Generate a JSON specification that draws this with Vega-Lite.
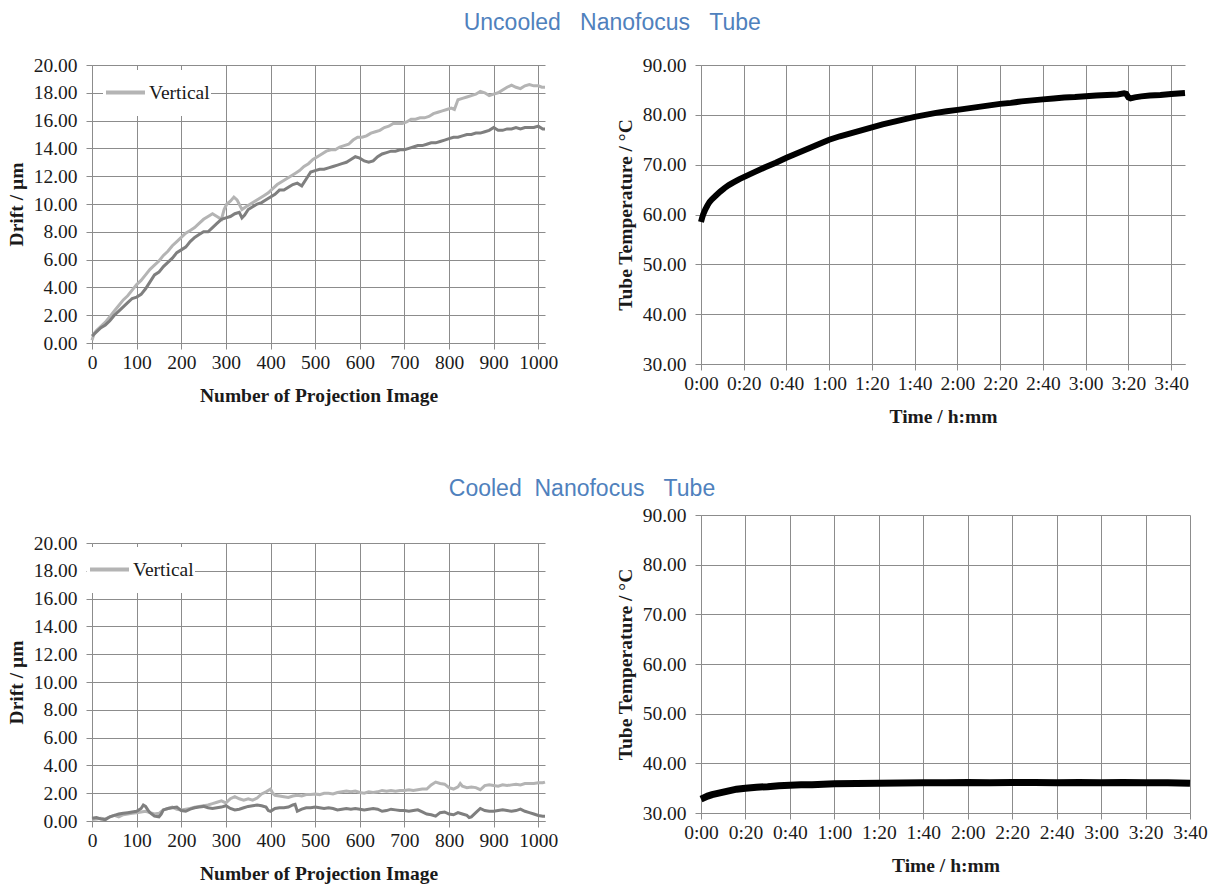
{
  "$schema": "https://vega.github.io/schema/vega-lite/v6.json",
  "padding": {"left": 6, "top": 12, "right": 5, "bottom": 5},
  "background": "white",
  "title": {"text": "Uncooled\u00a0\u00a0\u00a0Nanofocus\u00a0\u00a0\u00a0Tube", "font": "Liberation Sans", "fontSize": 23, "fontWeight": "normal", "color": "#4f81bd", "anchor": "middle", "dx": 5.5, "offset": 20},
  "config": {
    "view": {"stroke": null},
    "axis": {"labelFont": "Liberation Serif", "labelFontSize": 19.5, "labelColor": "#1a1a1a", "titleFont": "Liberation Serif", "titleFontSize": 19.5, "titleFontWeight": "bold", "titleColor": "#1a1a1a", "grid": true, "gridColor": "#8c8c8c", "gridOpacity": 1, "gridWidth": 1, "domainColor": "#8c8c8c", "domainWidth": 1, "tickColor": "#8c8c8c", "tickSize": 6, "labelFlush": false, "labelOverlap": false},
    "axisX": {"labelPadding": 4, "titlePadding": 15},
    "axisY": {"labelPadding": 9, "titlePadding": 7}
  },
  "datasets": {
    "tl": [
      {"n":0,"drift":0.2,"dir":"Vertical"},{"n":5,"drift":0.7,"dir":"Vertical"},{"n":10,"drift":0.9,"dir":"Vertical"},{"n":20,"drift":1.2,"dir":"Vertical"},{"n":30,"drift":1.5,"dir":"Vertical"},{"n":40,"drift":1.9,"dir":"Vertical"},{"n":50,"drift":2.3,"dir":"Vertical"},{"n":60,"drift":2.7,"dir":"Vertical"},{"n":70,"drift":3.1,"dir":"Vertical"},{"n":80,"drift":3.4,"dir":"Vertical"},{"n":90,"drift":3.8,"dir":"Vertical"},{"n":100,"drift":4.2,"dir":"Vertical"},{"n":110,"drift":4.5,"dir":"Vertical"},{"n":120,"drift":4.9,"dir":"Vertical"},{"n":130,"drift":5.3,"dir":"Vertical"},{"n":140,"drift":5.6,"dir":"Vertical"},{"n":150,"drift":5.9,"dir":"Vertical"},{"n":160,"drift":6.3,"dir":"Vertical"},{"n":170,"drift":6.6,"dir":"Vertical"},{"n":180,"drift":7.0,"dir":"Vertical"},{"n":190,"drift":7.3,"dir":"Vertical"},{"n":200,"drift":7.6,"dir":"Vertical"},{"n":210,"drift":7.9,"dir":"Vertical"},{"n":220,"drift":8.1,"dir":"Vertical"},{"n":230,"drift":8.3,"dir":"Vertical"},{"n":240,"drift":8.6,"dir":"Vertical"},{"n":250,"drift":8.9,"dir":"Vertical"},{"n":260,"drift":9.1,"dir":"Vertical"},{"n":270,"drift":9.3,"dir":"Vertical"},{"n":280,"drift":9.1,"dir":"Vertical"},{"n":290,"drift":8.9,"dir":"Vertical"},{"n":296,"drift":9.6,"dir":"Vertical"},{"n":302,"drift":10.0,"dir":"Vertical"},{"n":310,"drift":10.2,"dir":"Vertical"},{"n":318,"drift":10.5,"dir":"Vertical"},{"n":325,"drift":10.3,"dir":"Vertical"},{"n":336,"drift":9.6,"dir":"Vertical"},{"n":345,"drift":9.8,"dir":"Vertical"},{"n":355,"drift":10.0,"dir":"Vertical"},{"n":365,"drift":10.2,"dir":"Vertical"},{"n":375,"drift":10.4,"dir":"Vertical"},{"n":385,"drift":10.6,"dir":"Vertical"},{"n":395,"drift":10.8,"dir":"Vertical"},{"n":405,"drift":11.1,"dir":"Vertical"},{"n":415,"drift":11.4,"dir":"Vertical"},{"n":425,"drift":11.6,"dir":"Vertical"},{"n":435,"drift":11.8,"dir":"Vertical"},{"n":445,"drift":12.0,"dir":"Vertical"},{"n":455,"drift":12.2,"dir":"Vertical"},{"n":465,"drift":12.4,"dir":"Vertical"},{"n":475,"drift":12.7,"dir":"Vertical"},{"n":485,"drift":12.9,"dir":"Vertical"},{"n":495,"drift":13.2,"dir":"Vertical"},{"n":505,"drift":13.4,"dir":"Vertical"},{"n":515,"drift":13.6,"dir":"Vertical"},{"n":525,"drift":13.8,"dir":"Vertical"},{"n":535,"drift":13.9,"dir":"Vertical"},{"n":545,"drift":13.9,"dir":"Vertical"},{"n":555,"drift":14.1,"dir":"Vertical"},{"n":565,"drift":14.2,"dir":"Vertical"},{"n":575,"drift":14.3,"dir":"Vertical"},{"n":585,"drift":14.6,"dir":"Vertical"},{"n":595,"drift":14.8,"dir":"Vertical"},{"n":605,"drift":14.8,"dir":"Vertical"},{"n":615,"drift":14.9,"dir":"Vertical"},{"n":625,"drift":15.1,"dir":"Vertical"},{"n":635,"drift":15.2,"dir":"Vertical"},{"n":645,"drift":15.3,"dir":"Vertical"},{"n":655,"drift":15.5,"dir":"Vertical"},{"n":665,"drift":15.6,"dir":"Vertical"},{"n":675,"drift":15.8,"dir":"Vertical"},{"n":685,"drift":15.8,"dir":"Vertical"},{"n":695,"drift":15.8,"dir":"Vertical"},{"n":705,"drift":15.9,"dir":"Vertical"},{"n":715,"drift":16.1,"dir":"Vertical"},{"n":725,"drift":16.1,"dir":"Vertical"},{"n":735,"drift":16.2,"dir":"Vertical"},{"n":745,"drift":16.2,"dir":"Vertical"},{"n":755,"drift":16.3,"dir":"Vertical"},{"n":765,"drift":16.5,"dir":"Vertical"},{"n":775,"drift":16.6,"dir":"Vertical"},{"n":785,"drift":16.7,"dir":"Vertical"},{"n":795,"drift":16.8,"dir":"Vertical"},{"n":805,"drift":16.9,"dir":"Vertical"},{"n":812,"drift":16.8,"dir":"Vertical"},{"n":820,"drift":17.5,"dir":"Vertical"},{"n":830,"drift":17.6,"dir":"Vertical"},{"n":840,"drift":17.7,"dir":"Vertical"},{"n":850,"drift":17.8,"dir":"Vertical"},{"n":860,"drift":17.9,"dir":"Vertical"},{"n":870,"drift":18.1,"dir":"Vertical"},{"n":880,"drift":18.0,"dir":"Vertical"},{"n":890,"drift":17.8,"dir":"Vertical"},{"n":900,"drift":17.9,"dir":"Vertical"},{"n":910,"drift":18.0,"dir":"Vertical"},{"n":920,"drift":18.2,"dir":"Vertical"},{"n":930,"drift":18.4,"dir":"Vertical"},{"n":940,"drift":18.55,"dir":"Vertical"},{"n":950,"drift":18.4,"dir":"Vertical"},{"n":960,"drift":18.3,"dir":"Vertical"},{"n":970,"drift":18.5,"dir":"Vertical"},{"n":980,"drift":18.6,"dir":"Vertical"},{"n":990,"drift":18.5,"dir":"Vertical"},{"n":1000,"drift":18.5,"dir":"Vertical"},{"n":1008,"drift":18.4,"dir":"Vertical"},{"n":1015,"drift":18.4,"dir":"Vertical"},
      {"n":0,"drift":0.5,"dir":"Horizontal"},{"n":10,"drift":0.8,"dir":"Horizontal"},{"n":20,"drift":1.1,"dir":"Horizontal"},{"n":30,"drift":1.3,"dir":"Horizontal"},{"n":40,"drift":1.6,"dir":"Horizontal"},{"n":50,"drift":2.0,"dir":"Horizontal"},{"n":60,"drift":2.3,"dir":"Horizontal"},{"n":70,"drift":2.6,"dir":"Horizontal"},{"n":80,"drift":2.9,"dir":"Horizontal"},{"n":90,"drift":3.2,"dir":"Horizontal"},{"n":100,"drift":3.3,"dir":"Horizontal"},{"n":110,"drift":3.5,"dir":"Horizontal"},{"n":120,"drift":3.9,"dir":"Horizontal"},{"n":130,"drift":4.4,"dir":"Horizontal"},{"n":140,"drift":4.9,"dir":"Horizontal"},{"n":150,"drift":5.1,"dir":"Horizontal"},{"n":160,"drift":5.5,"dir":"Horizontal"},{"n":170,"drift":5.8,"dir":"Horizontal"},{"n":180,"drift":6.1,"dir":"Horizontal"},{"n":190,"drift":6.5,"dir":"Horizontal"},{"n":200,"drift":6.7,"dir":"Horizontal"},{"n":210,"drift":6.9,"dir":"Horizontal"},{"n":220,"drift":7.3,"dir":"Horizontal"},{"n":230,"drift":7.6,"dir":"Horizontal"},{"n":240,"drift":7.8,"dir":"Horizontal"},{"n":250,"drift":8.0,"dir":"Horizontal"},{"n":260,"drift":8.0,"dir":"Horizontal"},{"n":270,"drift":8.3,"dir":"Horizontal"},{"n":280,"drift":8.6,"dir":"Horizontal"},{"n":290,"drift":8.9,"dir":"Horizontal"},{"n":300,"drift":9.0,"dir":"Horizontal"},{"n":310,"drift":9.1,"dir":"Horizontal"},{"n":320,"drift":9.3,"dir":"Horizontal"},{"n":330,"drift":9.4,"dir":"Horizontal"},{"n":336,"drift":9.0,"dir":"Horizontal"},{"n":342,"drift":9.2,"dir":"Horizontal"},{"n":350,"drift":9.6,"dir":"Horizontal"},{"n":360,"drift":9.8,"dir":"Horizontal"},{"n":370,"drift":10.0,"dir":"Horizontal"},{"n":380,"drift":10.1,"dir":"Horizontal"},{"n":390,"drift":10.3,"dir":"Horizontal"},{"n":400,"drift":10.5,"dir":"Horizontal"},{"n":410,"drift":10.7,"dir":"Horizontal"},{"n":420,"drift":11.0,"dir":"Horizontal"},{"n":430,"drift":11.0,"dir":"Horizontal"},{"n":440,"drift":11.2,"dir":"Horizontal"},{"n":450,"drift":11.4,"dir":"Horizontal"},{"n":460,"drift":11.5,"dir":"Horizontal"},{"n":470,"drift":11.3,"dir":"Horizontal"},{"n":480,"drift":11.8,"dir":"Horizontal"},{"n":490,"drift":12.3,"dir":"Horizontal"},{"n":500,"drift":12.4,"dir":"Horizontal"},{"n":510,"drift":12.5,"dir":"Horizontal"},{"n":520,"drift":12.5,"dir":"Horizontal"},{"n":530,"drift":12.6,"dir":"Horizontal"},{"n":540,"drift":12.7,"dir":"Horizontal"},{"n":550,"drift":12.8,"dir":"Horizontal"},{"n":560,"drift":12.9,"dir":"Horizontal"},{"n":570,"drift":13.0,"dir":"Horizontal"},{"n":580,"drift":13.2,"dir":"Horizontal"},{"n":590,"drift":13.4,"dir":"Horizontal"},{"n":600,"drift":13.3,"dir":"Horizontal"},{"n":610,"drift":13.1,"dir":"Horizontal"},{"n":620,"drift":13.0,"dir":"Horizontal"},{"n":630,"drift":13.1,"dir":"Horizontal"},{"n":640,"drift":13.4,"dir":"Horizontal"},{"n":650,"drift":13.6,"dir":"Horizontal"},{"n":660,"drift":13.7,"dir":"Horizontal"},{"n":670,"drift":13.8,"dir":"Horizontal"},{"n":680,"drift":13.8,"dir":"Horizontal"},{"n":690,"drift":13.9,"dir":"Horizontal"},{"n":700,"drift":13.9,"dir":"Horizontal"},{"n":710,"drift":14.0,"dir":"Horizontal"},{"n":720,"drift":14.1,"dir":"Horizontal"},{"n":730,"drift":14.2,"dir":"Horizontal"},{"n":740,"drift":14.2,"dir":"Horizontal"},{"n":750,"drift":14.3,"dir":"Horizontal"},{"n":760,"drift":14.4,"dir":"Horizontal"},{"n":770,"drift":14.4,"dir":"Horizontal"},{"n":780,"drift":14.5,"dir":"Horizontal"},{"n":790,"drift":14.6,"dir":"Horizontal"},{"n":800,"drift":14.7,"dir":"Horizontal"},{"n":810,"drift":14.8,"dir":"Horizontal"},{"n":820,"drift":14.8,"dir":"Horizontal"},{"n":830,"drift":14.9,"dir":"Horizontal"},{"n":840,"drift":15.0,"dir":"Horizontal"},{"n":850,"drift":15.0,"dir":"Horizontal"},{"n":860,"drift":15.1,"dir":"Horizontal"},{"n":870,"drift":15.1,"dir":"Horizontal"},{"n":880,"drift":15.2,"dir":"Horizontal"},{"n":890,"drift":15.3,"dir":"Horizontal"},{"n":900,"drift":15.5,"dir":"Horizontal"},{"n":910,"drift":15.3,"dir":"Horizontal"},{"n":920,"drift":15.3,"dir":"Horizontal"},{"n":930,"drift":15.4,"dir":"Horizontal"},{"n":940,"drift":15.4,"dir":"Horizontal"},{"n":950,"drift":15.5,"dir":"Horizontal"},{"n":960,"drift":15.4,"dir":"Horizontal"},{"n":970,"drift":15.5,"dir":"Horizontal"},{"n":980,"drift":15.5,"dir":"Horizontal"},{"n":990,"drift":15.5,"dir":"Horizontal"},{"n":1000,"drift":15.6,"dir":"Horizontal"},{"n":1010,"drift":15.4,"dir":"Horizontal"},{"n":1015,"drift":15.4,"dir":"Horizontal"}
    ],
    "bl": [
      {"n":0,"drift":0.1,"dir":"Vertical"},{"n":10,"drift":0.15,"dir":"Vertical"},{"n":20,"drift":0.2,"dir":"Vertical"},{"n":30,"drift":0.15,"dir":"Vertical"},{"n":40,"drift":0.3,"dir":"Vertical"},{"n":50,"drift":0.4,"dir":"Vertical"},{"n":60,"drift":0.3,"dir":"Vertical"},{"n":70,"drift":0.45,"dir":"Vertical"},{"n":80,"drift":0.5,"dir":"Vertical"},{"n":90,"drift":0.55,"dir":"Vertical"},{"n":100,"drift":0.6,"dir":"Vertical"},{"n":110,"drift":0.65,"dir":"Vertical"},{"n":120,"drift":0.7,"dir":"Vertical"},{"n":130,"drift":0.6,"dir":"Vertical"},{"n":140,"drift":0.5,"dir":"Vertical"},{"n":150,"drift":0.55,"dir":"Vertical"},{"n":160,"drift":0.8,"dir":"Vertical"},{"n":170,"drift":0.9,"dir":"Vertical"},{"n":180,"drift":1.0,"dir":"Vertical"},{"n":190,"drift":0.85,"dir":"Vertical"},{"n":200,"drift":0.8,"dir":"Vertical"},{"n":210,"drift":0.85,"dir":"Vertical"},{"n":220,"drift":0.9,"dir":"Vertical"},{"n":230,"drift":1.0,"dir":"Vertical"},{"n":240,"drift":1.05,"dir":"Vertical"},{"n":250,"drift":1.1,"dir":"Vertical"},{"n":260,"drift":1.15,"dir":"Vertical"},{"n":270,"drift":1.25,"dir":"Vertical"},{"n":280,"drift":1.35,"dir":"Vertical"},{"n":290,"drift":1.45,"dir":"Vertical"},{"n":300,"drift":1.3,"dir":"Vertical"},{"n":310,"drift":1.6,"dir":"Vertical"},{"n":320,"drift":1.75,"dir":"Vertical"},{"n":330,"drift":1.6,"dir":"Vertical"},{"n":340,"drift":1.5,"dir":"Vertical"},{"n":350,"drift":1.6,"dir":"Vertical"},{"n":360,"drift":1.5,"dir":"Vertical"},{"n":370,"drift":1.65,"dir":"Vertical"},{"n":380,"drift":1.95,"dir":"Vertical"},{"n":390,"drift":2.1,"dir":"Vertical"},{"n":400,"drift":2.3,"dir":"Vertical"},{"n":405,"drift":2.0,"dir":"Vertical"},{"n":410,"drift":1.85,"dir":"Vertical"},{"n":420,"drift":1.8,"dir":"Vertical"},{"n":430,"drift":1.75,"dir":"Vertical"},{"n":440,"drift":1.7,"dir":"Vertical"},{"n":450,"drift":1.8,"dir":"Vertical"},{"n":460,"drift":1.85,"dir":"Vertical"},{"n":470,"drift":1.8,"dir":"Vertical"},{"n":480,"drift":1.9,"dir":"Vertical"},{"n":490,"drift":1.9,"dir":"Vertical"},{"n":500,"drift":1.95,"dir":"Vertical"},{"n":510,"drift":1.9,"dir":"Vertical"},{"n":520,"drift":2.0,"dir":"Vertical"},{"n":530,"drift":2.0,"dir":"Vertical"},{"n":540,"drift":1.95,"dir":"Vertical"},{"n":550,"drift":2.05,"dir":"Vertical"},{"n":560,"drift":2.1,"dir":"Vertical"},{"n":570,"drift":2.15,"dir":"Vertical"},{"n":580,"drift":2.1,"dir":"Vertical"},{"n":590,"drift":2.15,"dir":"Vertical"},{"n":600,"drift":2.05,"dir":"Vertical"},{"n":610,"drift":2.0,"dir":"Vertical"},{"n":620,"drift":2.1,"dir":"Vertical"},{"n":630,"drift":2.05,"dir":"Vertical"},{"n":640,"drift":2.1,"dir":"Vertical"},{"n":650,"drift":2.2,"dir":"Vertical"},{"n":660,"drift":2.15,"dir":"Vertical"},{"n":670,"drift":2.2,"dir":"Vertical"},{"n":680,"drift":2.15,"dir":"Vertical"},{"n":690,"drift":2.2,"dir":"Vertical"},{"n":700,"drift":2.2,"dir":"Vertical"},{"n":710,"drift":2.25,"dir":"Vertical"},{"n":720,"drift":2.2,"dir":"Vertical"},{"n":730,"drift":2.25,"dir":"Vertical"},{"n":740,"drift":2.3,"dir":"Vertical"},{"n":750,"drift":2.3,"dir":"Vertical"},{"n":760,"drift":2.6,"dir":"Vertical"},{"n":770,"drift":2.8,"dir":"Vertical"},{"n":780,"drift":2.7,"dir":"Vertical"},{"n":790,"drift":2.65,"dir":"Vertical"},{"n":800,"drift":2.4,"dir":"Vertical"},{"n":810,"drift":2.3,"dir":"Vertical"},{"n":820,"drift":2.45,"dir":"Vertical"},{"n":825,"drift":2.7,"dir":"Vertical"},{"n":830,"drift":2.5,"dir":"Vertical"},{"n":840,"drift":2.4,"dir":"Vertical"},{"n":850,"drift":2.45,"dir":"Vertical"},{"n":860,"drift":2.4,"dir":"Vertical"},{"n":870,"drift":2.25,"dir":"Vertical"},{"n":880,"drift":2.55,"dir":"Vertical"},{"n":890,"drift":2.6,"dir":"Vertical"},{"n":900,"drift":2.55,"dir":"Vertical"},{"n":910,"drift":2.5,"dir":"Vertical"},{"n":920,"drift":2.6,"dir":"Vertical"},{"n":930,"drift":2.55,"dir":"Vertical"},{"n":940,"drift":2.6,"dir":"Vertical"},{"n":950,"drift":2.65,"dir":"Vertical"},{"n":960,"drift":2.6,"dir":"Vertical"},{"n":970,"drift":2.7,"dir":"Vertical"},{"n":980,"drift":2.7,"dir":"Vertical"},{"n":990,"drift":2.7,"dir":"Vertical"},{"n":1000,"drift":2.75,"dir":"Vertical"},{"n":1010,"drift":2.75,"dir":"Vertical"},{"n":1015,"drift":2.8,"dir":"Vertical"},
      {"n":0,"drift":0.2,"dir":"Horizontal"},{"n":10,"drift":0.25,"dir":"Horizontal"},{"n":20,"drift":0.15,"dir":"Horizontal"},{"n":30,"drift":0.1,"dir":"Horizontal"},{"n":40,"drift":0.3,"dir":"Horizontal"},{"n":50,"drift":0.4,"dir":"Horizontal"},{"n":60,"drift":0.5,"dir":"Horizontal"},{"n":70,"drift":0.55,"dir":"Horizontal"},{"n":80,"drift":0.6,"dir":"Horizontal"},{"n":90,"drift":0.65,"dir":"Horizontal"},{"n":100,"drift":0.7,"dir":"Horizontal"},{"n":110,"drift":0.9,"dir":"Horizontal"},{"n":115,"drift":1.15,"dir":"Horizontal"},{"n":120,"drift":1.05,"dir":"Horizontal"},{"n":125,"drift":0.8,"dir":"Horizontal"},{"n":130,"drift":0.6,"dir":"Horizontal"},{"n":140,"drift":0.35,"dir":"Horizontal"},{"n":150,"drift":0.3,"dir":"Horizontal"},{"n":155,"drift":0.5,"dir":"Horizontal"},{"n":160,"drift":0.8,"dir":"Horizontal"},{"n":170,"drift":0.9,"dir":"Horizontal"},{"n":180,"drift":0.95,"dir":"Horizontal"},{"n":190,"drift":1.0,"dir":"Horizontal"},{"n":200,"drift":0.75,"dir":"Horizontal"},{"n":210,"drift":0.7,"dir":"Horizontal"},{"n":220,"drift":0.85,"dir":"Horizontal"},{"n":230,"drift":0.95,"dir":"Horizontal"},{"n":240,"drift":1.0,"dir":"Horizontal"},{"n":250,"drift":1.05,"dir":"Horizontal"},{"n":260,"drift":0.95,"dir":"Horizontal"},{"n":270,"drift":0.9,"dir":"Horizontal"},{"n":280,"drift":0.95,"dir":"Horizontal"},{"n":290,"drift":1.0,"dir":"Horizontal"},{"n":300,"drift":1.1,"dir":"Horizontal"},{"n":310,"drift":0.9,"dir":"Horizontal"},{"n":320,"drift":0.8,"dir":"Horizontal"},{"n":330,"drift":0.85,"dir":"Horizontal"},{"n":340,"drift":0.95,"dir":"Horizontal"},{"n":350,"drift":1.05,"dir":"Horizontal"},{"n":360,"drift":1.1,"dir":"Horizontal"},{"n":370,"drift":1.15,"dir":"Horizontal"},{"n":380,"drift":1.1,"dir":"Horizontal"},{"n":390,"drift":1.0,"dir":"Horizontal"},{"n":395,"drift":0.75,"dir":"Horizontal"},{"n":400,"drift":0.7,"dir":"Horizontal"},{"n":410,"drift":0.9,"dir":"Horizontal"},{"n":420,"drift":0.95,"dir":"Horizontal"},{"n":430,"drift":0.95,"dir":"Horizontal"},{"n":440,"drift":1.0,"dir":"Horizontal"},{"n":450,"drift":1.15,"dir":"Horizontal"},{"n":455,"drift":1.2,"dir":"Horizontal"},{"n":460,"drift":0.7,"dir":"Horizontal"},{"n":470,"drift":0.85,"dir":"Horizontal"},{"n":480,"drift":0.95,"dir":"Horizontal"},{"n":490,"drift":0.95,"dir":"Horizontal"},{"n":500,"drift":1.0,"dir":"Horizontal"},{"n":510,"drift":0.95,"dir":"Horizontal"},{"n":520,"drift":0.9,"dir":"Horizontal"},{"n":530,"drift":0.95,"dir":"Horizontal"},{"n":540,"drift":0.9,"dir":"Horizontal"},{"n":550,"drift":0.8,"dir":"Horizontal"},{"n":560,"drift":0.85,"dir":"Horizontal"},{"n":570,"drift":0.9,"dir":"Horizontal"},{"n":580,"drift":0.85,"dir":"Horizontal"},{"n":590,"drift":0.9,"dir":"Horizontal"},{"n":600,"drift":0.85,"dir":"Horizontal"},{"n":610,"drift":0.8,"dir":"Horizontal"},{"n":620,"drift":0.85,"dir":"Horizontal"},{"n":630,"drift":0.9,"dir":"Horizontal"},{"n":640,"drift":0.85,"dir":"Horizontal"},{"n":650,"drift":0.7,"dir":"Horizontal"},{"n":660,"drift":0.75,"dir":"Horizontal"},{"n":670,"drift":0.85,"dir":"Horizontal"},{"n":680,"drift":0.8,"dir":"Horizontal"},{"n":690,"drift":0.75,"dir":"Horizontal"},{"n":700,"drift":0.75,"dir":"Horizontal"},{"n":710,"drift":0.7,"dir":"Horizontal"},{"n":720,"drift":0.75,"dir":"Horizontal"},{"n":730,"drift":0.8,"dir":"Horizontal"},{"n":740,"drift":0.65,"dir":"Horizontal"},{"n":750,"drift":0.5,"dir":"Horizontal"},{"n":760,"drift":0.45,"dir":"Horizontal"},{"n":770,"drift":0.35,"dir":"Horizontal"},{"n":780,"drift":0.6,"dir":"Horizontal"},{"n":790,"drift":0.65,"dir":"Horizontal"},{"n":800,"drift":0.5,"dir":"Horizontal"},{"n":810,"drift":0.45,"dir":"Horizontal"},{"n":820,"drift":0.6,"dir":"Horizontal"},{"n":830,"drift":0.5,"dir":"Horizontal"},{"n":840,"drift":0.4,"dir":"Horizontal"},{"n":845,"drift":0.25,"dir":"Horizontal"},{"n":850,"drift":0.3,"dir":"Horizontal"},{"n":860,"drift":0.6,"dir":"Horizontal"},{"n":870,"drift":0.9,"dir":"Horizontal"},{"n":880,"drift":0.75,"dir":"Horizontal"},{"n":890,"drift":0.7,"dir":"Horizontal"},{"n":900,"drift":0.7,"dir":"Horizontal"},{"n":910,"drift":0.75,"dir":"Horizontal"},{"n":920,"drift":0.8,"dir":"Horizontal"},{"n":930,"drift":0.75,"dir":"Horizontal"},{"n":940,"drift":0.7,"dir":"Horizontal"},{"n":950,"drift":0.75,"dir":"Horizontal"},{"n":960,"drift":0.85,"dir":"Horizontal"},{"n":970,"drift":0.7,"dir":"Horizontal"},{"n":980,"drift":0.6,"dir":"Horizontal"},{"n":990,"drift":0.5,"dir":"Horizontal"},{"n":1000,"drift":0.4,"dir":"Horizontal"},{"n":1010,"drift":0.35,"dir":"Horizontal"},{"n":1015,"drift":0.35,"dir":"Horizontal"}
    ],
    "tr": [
      {"t":0,"temp":58.5},{"t":0.5,"temp":59.3},{"t":1,"temp":60.0},{"t":2,"temp":61.0},{"t":3,"temp":61.8},{"t":4,"temp":62.5},{"t":5,"temp":63.0},{"t":7,"temp":63.8},{"t":9,"temp":64.6},{"t":11,"temp":65.3},{"t":13,"temp":65.9},{"t":15,"temp":66.4},{"t":18,"temp":67.1},{"t":21,"temp":67.7},{"t":25,"temp":68.5},{"t":30,"temp":69.5},{"t":35,"temp":70.4},{"t":40,"temp":71.4},{"t":45,"temp":72.3},{"t":50,"temp":73.2},{"t":55,"temp":74.1},{"t":60,"temp":75.0},{"t":65,"temp":75.7},{"t":70,"temp":76.3},{"t":75,"temp":76.9},{"t":80,"temp":77.5},{"t":85,"temp":78.1},{"t":90,"temp":78.6},{"t":95,"temp":79.1},{"t":100,"temp":79.6},{"t":105,"temp":80.0},{"t":110,"temp":80.4},{"t":115,"temp":80.7},{"t":120,"temp":81.0},{"t":125,"temp":81.3},{"t":130,"temp":81.6},{"t":135,"temp":81.9},{"t":140,"temp":82.2},{"t":145,"temp":82.4},{"t":150,"temp":82.7},{"t":155,"temp":82.9},{"t":160,"temp":83.1},{"t":165,"temp":83.3},{"t":170,"temp":83.5},{"t":175,"temp":83.6},{"t":180,"temp":83.75},{"t":185,"temp":83.9},{"t":190,"temp":84.0},{"t":195,"temp":84.1},{"t":198,"temp":84.3},{"t":199,"temp":84.2},{"t":200,"temp":83.5},{"t":201,"temp":83.3},{"t":203,"temp":83.5},{"t":206,"temp":83.7},{"t":210,"temp":83.9},{"t":215,"temp":84.0},{"t":220,"temp":84.2},{"t":226.5,"temp":84.4}
    ],
    "br": [
      {"t":0,"temp":32.8},{"t":1,"temp":33.0},{"t":3,"temp":33.4},{"t":5,"temp":33.7},{"t":8,"temp":34.0},{"t":10,"temp":34.2},{"t":13,"temp":34.5},{"t":16,"temp":34.8},{"t":20,"temp":35.0},{"t":25,"temp":35.2},{"t":30,"temp":35.3},{"t":35,"temp":35.5},{"t":40,"temp":35.6},{"t":45,"temp":35.7},{"t":50,"temp":35.7},{"t":55,"temp":35.8},{"t":60,"temp":35.9},{"t":70,"temp":35.95},{"t":80,"temp":36.0},{"t":90,"temp":36.05},{"t":100,"temp":36.1},{"t":110,"temp":36.1},{"t":120,"temp":36.15},{"t":130,"temp":36.1},{"t":140,"temp":36.15},{"t":150,"temp":36.15},{"t":160,"temp":36.1},{"t":170,"temp":36.15},{"t":180,"temp":36.1},{"t":190,"temp":36.15},{"t":200,"temp":36.1},{"t":210,"temp":36.1},{"t":220,"temp":36.0}
    ]
  },
  "columns": 2,
  "align": {"column": "each", "row": "none"},
  "bounds": "full",
  "spacing": {"column": -110, "row": 52},
  "resolve": {"scale": {"color": "independent"}, "legend": {"color": "independent"}},
  "concat": [
    {
      "width": 453, "height": 278,
      "data": {"name": "tl"},
      "mark": {"type": "line", "strokeWidth": 3},
      "encoding": {
        "x": {"field": "n", "type": "quantitative", "scale": {"domain": [0, 1015], "nice": false}, "axis": {"title": "Number of Projection Image", "values": [0,100,200,300,400,500,600,700,800,900,1000], "format": "d"}},
        "y": {"field": "drift", "type": "quantitative", "scale": {"domain": [0, 20], "nice": false}, "axis": {"title": "Drift / \u00b5m", "values": [0,2,4,6,8,10,12,14,16,18,20], "format": ".2f"}},
        "color": {"field": "dir", "type": "nominal", "scale": {"domain": ["Vertical", "Horizontal"], "range": ["#b4b4b4", "#7f7f7f"]},
          "legend": {"orient": "none", "legendX": 11, "legendY": 5, "title": "\u00a0", "titleOrient": "bottom", "titleFontSize": 10, "titlePadding": 3, "fillColor": "white", "padding": 1, "symbolType": "stroke", "symbolSize": 1521, "symbolStrokeWidth": 4, "labelFont": "Liberation Serif", "labelFontSize": 19.5, "labelColor": "#1a1a1a", "labelOffset": 2, "values": ["Vertical"], "zindex": 5}}
      }
    },
    {
      "width": 484, "height": 299,
      "data": {"name": "tr"},
      "mark": {"type": "line", "strokeWidth": 6, "color": "black"},
      "encoding": {
        "x": {"field": "t", "type": "quantitative", "scale": {"domain": [0, 226.5], "nice": false}, "axis": {"title": "Time / h:mm", "values": [0,20,40,60,80,100,120,140,160,180,200,220], "labelExpr": "floor(datum.value/60) + ':' + (datum.value % 60 < 10 ? '0' : '') + (datum.value % 60)"}},
        "y": {"field": "temp", "type": "quantitative", "scale": {"domain": [30, 90], "nice": false}, "axis": {"title": "Tube Temperature / \u00b0C", "values": [30,40,50,60,70,80,90], "format": ".2f"}}
      }
    },
    {
      "width": 453, "height": 278,
      "title": {"text": "\u00a0", "fontSize": 10, "offset": 45, "color": "white"},
      "data": {"name": "bl"},
      "mark": {"type": "line", "strokeWidth": 3},
      "encoding": {
        "x": {"field": "n", "type": "quantitative", "scale": {"domain": [0, 1015], "nice": false}, "axis": {"title": "Number of Projection Image", "values": [0,100,200,300,400,500,600,700,800,900,1000], "format": "d"}},
        "y": {"field": "drift", "type": "quantitative", "scale": {"domain": [0, 20], "nice": false}, "axis": {"title": "Drift / \u00b5m", "values": [0,2,4,6,8,10,12,14,16,18,20], "format": ".2f"}},
        "color": {"field": "dir", "type": "nominal", "scale": {"domain": ["Vertical", "Horizontal"], "range": ["#b4b4b4", "#7f7f7f"]},
          "legend": {"orient": "none", "legendX": -5, "legendY": 4, "title": "\u00a0", "titleOrient": "bottom", "titleFontSize": 10, "titlePadding": 3, "fillColor": "white", "padding": 1, "symbolType": "stroke", "symbolSize": 1521, "symbolStrokeWidth": 4, "labelFont": "Liberation Serif", "labelFontSize": 19.5, "labelColor": "#1a1a1a", "labelOffset": 2, "values": ["Vertical"], "zindex": 5}}
      }
    },
    {
      "width": 489, "height": 298,
      "title": {"text": "Cooled\u00a0\u00a0Nanofocus\u00a0\u00a0\u00a0Tube", "font": "Liberation Sans", "fontSize": 23, "fontWeight": "normal", "color": "#4f81bd", "anchor": "middle", "frame": "group", "dx": -363.5, "offset": 4},
      "data": {"name": "br"},
      "mark": {"type": "line", "strokeWidth": 7, "color": "black"},
      "encoding": {
        "x": {"field": "t", "type": "quantitative", "scale": {"domain": [0, 220], "nice": false}, "axis": {"title": "Time / h:mm", "values": [0,20,40,60,80,100,120,140,160,180,200,220], "labelExpr": "floor(datum.value/60) + ':' + (datum.value % 60 < 10 ? '0' : '') + (datum.value % 60)"}},
        "y": {"field": "temp", "type": "quantitative", "scale": {"domain": [30, 90], "nice": false}, "axis": {"title": "Tube Temperature / \u00b0C", "values": [30,40,50,60,70,80,90], "format": ".2f"}}
      }
    }
  ]
}
